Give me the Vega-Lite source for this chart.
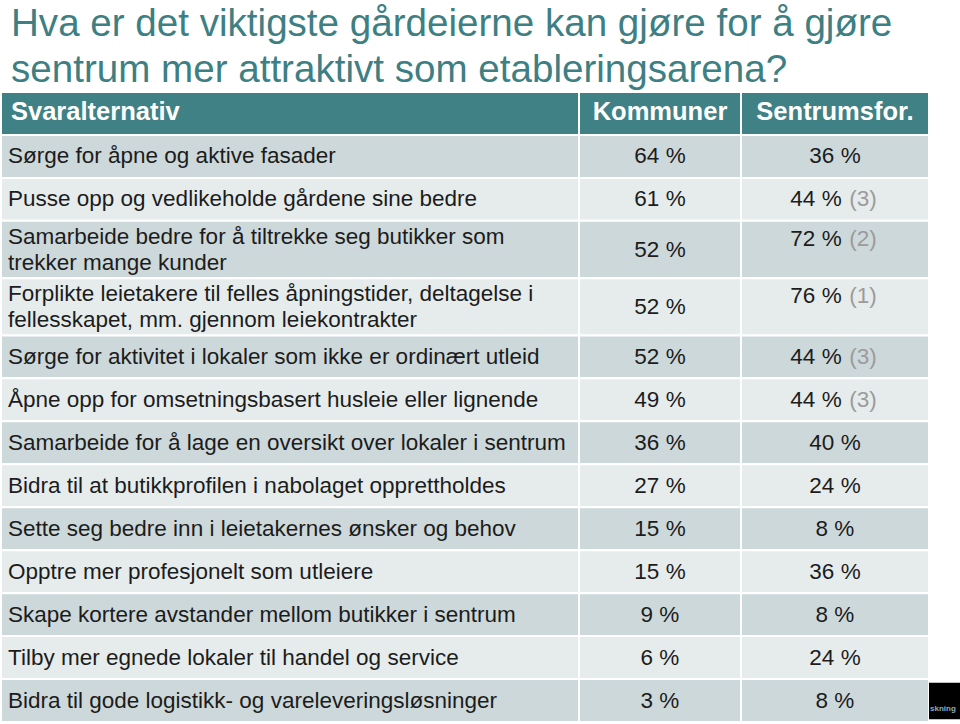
{
  "$schema": "https://vega.github.io/schema/vega-lite/v6.json",
  "padding": {"top": 5, "left": 0, "right": 0, "bottom": 0},
  "autosize": {"type": "pad"},
  "background": "white",
  "spacing": 0,
  "bounds": "flush",
  "title": {
    "text": ["Hva er det viktigste gårdeierne kan gjøre for å gjøre", "sentrum mer attraktivt som etableringsarena?"],
    "anchor": "start",
    "font": "Liberation Sans",
    "fontSize": 38.6,
    "fontWeight": "normal",
    "color": "#3d7f83",
    "lineHeight": 46,
    "baseline": "alphabetic",
    "dx": 11,
    "offset": -30
  },
  "data": {
    "values": [
      {"i": 1, "alternativ": "Sørge for åpne og aktive fasader", "kommuner": 64, "sentrum": 36, "rangering": null, "linjer": 1},
      {"i": 2, "alternativ": "Pusse opp og vedlikeholde gårdene sine bedre", "kommuner": 61, "sentrum": 44, "rangering": 3, "linjer": 1},
      {"i": 3, "alternativ": "Samarbeide bedre for å tiltrekke seg butikker som\ntrekker mange kunder", "kommuner": 52, "sentrum": 72, "rangering": 2, "linjer": 2},
      {"i": 4, "alternativ": "Forplikte leietakere til felles åpningstider, deltagelse i\nfellesskapet, mm. gjennom leiekontrakter", "kommuner": 52, "sentrum": 76, "rangering": 1, "linjer": 2},
      {"i": 5, "alternativ": "Sørge for aktivitet i lokaler som ikke er ordinært utleid", "kommuner": 52, "sentrum": 44, "rangering": 3, "linjer": 1},
      {"i": 6, "alternativ": "Åpne opp for omsetningsbasert husleie eller lignende", "kommuner": 49, "sentrum": 44, "rangering": 3, "linjer": 1},
      {"i": 7, "alternativ": "Samarbeide for å lage en oversikt over lokaler i sentrum", "kommuner": 36, "sentrum": 40, "rangering": null, "linjer": 1},
      {"i": 8, "alternativ": "Bidra til at butikkprofilen i nabolaget opprettholdes", "kommuner": 27, "sentrum": 24, "rangering": null, "linjer": 1},
      {"i": 9, "alternativ": "Sette seg bedre inn i leietakernes ønsker og behov", "kommuner": 15, "sentrum": 8, "rangering": null, "linjer": 1},
      {"i": 10, "alternativ": "Opptre mer profesjonelt som utleiere", "kommuner": 15, "sentrum": 36, "rangering": null, "linjer": 1},
      {"i": 11, "alternativ": "Skape kortere avstander mellom butikker i sentrum", "kommuner": 9, "sentrum": 8, "rangering": null, "linjer": 1},
      {"i": 12, "alternativ": "Tilby mer egnede lokaler til handel og service", "kommuner": 6, "sentrum": 24, "rangering": null, "linjer": 1},
      {"i": 13, "alternativ": "Bidra til gode logistikk- og vareleveringsløsninger", "kommuner": 3, "sentrum": 8, "rangering": null, "linjer": 1}
    ]
  },
  "transform": [
    {"calculate": "datum.linjer + 2", "as": "h"},
    {"window": [{"op": "sum", "field": "h", "as": "cum"}], "sort": [{"field": "i", "order": "ascending"}], "frame": [null, 0]},
    {"calculate": "datum.cum + 3", "as": "yb"},
    {"calculate": "datum.yb - datum.h", "as": "yt"},
    {"calculate": "(datum.yt + datum.yb) / 2", "as": "ym"},
    {"calculate": "datum.ym - (datum.linjer - 1) * 0.9", "as": "yl"},
    {"calculate": "datum.linjer == 2 ? datum.yt + 1.25 : datum.ym", "as": "yo"},
    {"calculate": "datum.i % 2 == 1 ? 'mørk' : 'lys'", "as": "skygge"},
    {"calculate": "datum.kommuner + ' %'", "as": "kTekst"},
    {"calculate": "datum.sentrum + ' %'", "as": "sTekst"},
    {"calculate": "'(' + datum.rangering + ')'", "as": "rTekst"}
  ],
  "hconcat": [
    {
      "width": 578,
      "height": 630,
      "layer": [
        {
          "mark": {"type": "rect", "stroke": "white", "strokeWidth": 2},
          "encoding": {
            "x": {"value": 0},
            "x2": {"value": "width"},
            "y": {"field": "yt", "type": "quantitative", "scale": {"domain": [0, 44], "reverse": true, "nice": false, "zero": false}, "axis": null},
            "y2": {"field": "yb"},
            "color": {"field": "skygge", "type": "nominal", "scale": {"domain": ["mørk", "lys"], "range": ["#cdd8da", "#e6ecec"]}, "legend": null}
          }
        },
        {
          "data": {"values": [{"overskrift": "Svaralternativ"}]},
          "transform": [],
          "mark": {"type": "rect", "stroke": "white", "strokeWidth": 2, "color": "#3f8185"},
          "encoding": {
            "x": {"value": 0},
            "x2": {"value": "width"},
            "y": {"datum": 0},
            "y2": {"datum": 3}
          }
        },
        {
          "data": {"values": [{"overskrift": "Svaralternativ"}]},
          "transform": [],
          "mark": {"type": "text", "align": "left", "baseline": "middle", "dx": 10, "font": "Liberation Sans", "fontSize": 25.5, "fontWeight": "bold", "color": "white"},
          "encoding": {
            "x": {"value": 0},
            "y": {"datum": 1.4},
            "text": {"field": "overskrift"}
          }
        },
        {
          "mark": {"type": "text", "align": "left", "baseline": "middle", "dx": 7, "font": "Liberation Sans", "fontSize": 22.5, "lineHeight": 26, "lineBreak": "\n", "color": "#1c1c1c"},
          "encoding": {
            "x": {"value": 0},
            "y": {"field": "yl", "type": "quantitative"},
            "text": {"field": "alternativ"}
          }
        }
      ]
    },
    {
      "width": 162,
      "height": 630,
      "layer": [
        {
          "mark": {"type": "rect", "stroke": "white", "strokeWidth": 2},
          "encoding": {
            "x": {"value": 0},
            "x2": {"value": "width"},
            "y": {"field": "yt", "type": "quantitative", "scale": {"domain": [0, 44], "reverse": true, "nice": false, "zero": false}, "axis": null},
            "y2": {"field": "yb"},
            "color": {"field": "skygge", "type": "nominal", "scale": {"domain": ["mørk", "lys"], "range": ["#cdd8da", "#e6ecec"]}, "legend": null}
          }
        },
        {
          "data": {"values": [{"overskrift": "Kommuner"}]},
          "transform": [],
          "mark": {"type": "rect", "stroke": "white", "strokeWidth": 2, "color": "#3f8185"},
          "encoding": {
            "x": {"value": 0},
            "x2": {"value": "width"},
            "y": {"datum": 0},
            "y2": {"datum": 3}
          }
        },
        {
          "data": {"values": [{"overskrift": "Kommuner"}]},
          "transform": [],
          "mark": {"type": "text", "align": "center", "baseline": "middle", "font": "Liberation Sans", "fontSize": 25.5, "fontWeight": "bold", "color": "white"},
          "encoding": {
            "y": {"datum": 1.4},
            "text": {"field": "overskrift"}
          }
        },
        {
          "mark": {"type": "text", "align": "center", "baseline": "middle", "font": "Liberation Sans", "fontSize": 22.5, "color": "#1c1c1c"},
          "encoding": {
            "y": {"field": "ym", "type": "quantitative"},
            "text": {"field": "kTekst"}
          }
        }
      ]
    },
    {
      "width": 188,
      "height": 630,
      "layer": [
        {
          "mark": {"type": "rect", "stroke": "white", "strokeWidth": 2},
          "encoding": {
            "x": {"value": 0},
            "x2": {"value": "width"},
            "y": {"field": "yt", "type": "quantitative", "scale": {"domain": [0, 44], "reverse": true, "nice": false, "zero": false}, "axis": null},
            "y2": {"field": "yb"},
            "color": {"field": "skygge", "type": "nominal", "scale": {"domain": ["mørk", "lys"], "range": ["#cdd8da", "#e6ecec"]}, "legend": null}
          }
        },
        {
          "data": {"values": [{"overskrift": "Sentrumsfor."}]},
          "transform": [],
          "mark": {"type": "rect", "stroke": "white", "strokeWidth": 2, "color": "#3f8185"},
          "encoding": {
            "x": {"value": 0},
            "x2": {"value": "width"},
            "y": {"datum": 0},
            "y2": {"datum": 3}
          }
        },
        {
          "data": {"values": [{"overskrift": "Sentrumsfor."}]},
          "transform": [],
          "mark": {"type": "text", "align": "center", "baseline": "middle", "font": "Liberation Sans", "fontSize": 25.5, "fontWeight": "bold", "color": "white"},
          "encoding": {
            "y": {"datum": 1.4},
            "text": {"field": "overskrift"}
          }
        },
        {
          "transform": [{"filter": "datum.rangering == null"}],
          "mark": {"type": "text", "align": "center", "baseline": "middle", "font": "Liberation Sans", "fontSize": 22.5, "color": "#1c1c1c"},
          "encoding": {
            "y": {"field": "yo", "type": "quantitative"},
            "text": {"field": "sTekst"}
          }
        },
        {
          "transform": [{"filter": "datum.rangering != null"}],
          "mark": {"type": "text", "align": "center", "baseline": "middle", "dx": -19, "font": "Liberation Sans", "fontSize": 22.5, "color": "#1c1c1c"},
          "encoding": {
            "y": {"field": "yo", "type": "quantitative"},
            "text": {"field": "sTekst"}
          }
        },
        {
          "transform": [{"filter": "datum.rangering != null"}],
          "mark": {"type": "text", "align": "center", "baseline": "middle", "dx": 28, "font": "Liberation Sans", "fontSize": 22.5, "color": "#9b9b9b"},
          "encoding": {
            "y": {"field": "yo", "type": "quantitative"},
            "text": {"field": "rTekst"}
          }
        }
      ]
    },
    {
      "width": 32,
      "height": 630,
      "layer": [
        {
          "data": {"values": [{"logo": "skning"}]},
          "transform": [],
          "mark": {"type": "rect", "color": "black"},
          "encoding": {
            "x": {"value": 0},
            "x2": {"value": "width"},
            "y": {"datum": 41.25, "type": "quantitative", "scale": {"domain": [0, 44], "reverse": true, "nice": false, "zero": false}, "axis": null},
            "y2": {"datum": 43.8}
          }
        },
        {
          "data": {"values": [{"logo": "skning"}]},
          "transform": [],
          "mark": {"type": "text", "align": "left", "baseline": "alphabetic", "dx": 1, "font": "Liberation Sans", "fontSize": 8, "fontWeight": "bold", "color": "#8aaebe"},
          "encoding": {
            "x": {"value": 0},
            "y": {"datum": 43.25},
            "text": {"field": "logo"}
          }
        }
      ]
    }
  ],
  "config": {
    "view": {"stroke": null}
  }
}
